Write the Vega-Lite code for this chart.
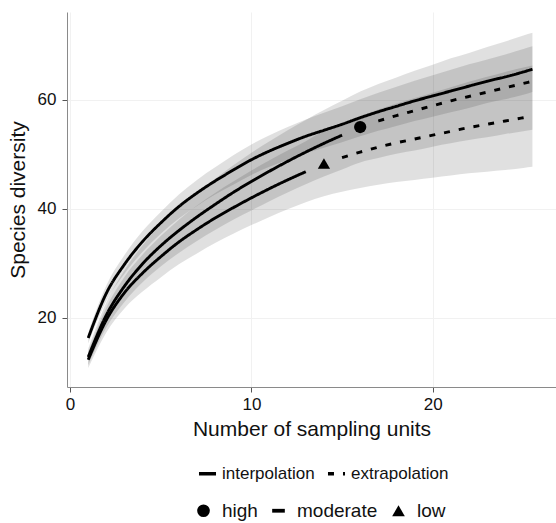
{
  "$schema": "https://vega.github.io/schema/vega-lite/v6.json",
  "width": 489,
  "height": 375,
  "autosize": "none",
  "padding": {"left": 67, "top": 12, "right": 0, "bottom": 136},
  "background": "white",
  "config": {
    "view": {"stroke": null},
    "font": "Liberation Sans",
    "axis": {
      "domainColor": "#8a8a8a",
      "tickColor": "#555555",
      "labelColor": "#111111",
      "titleColor": "#111111",
      "labelFont": "Liberation Sans",
      "titleFont": "Liberation Sans",
      "titleFontWeight": "normal",
      "labelFontSize": 17,
      "titleFontSize": 21,
      "gridColor": "#f1f1f1",
      "tickSize": 5
    }
  },
  "datasets": {
    "curves": [
      {"g": "moderate", "m": "interpolation", "x": 1, "y": 16.3, "lo": 15.3, "hi": 17.3},
      {"g": "moderate", "m": "interpolation", "x": 2, "y": 24.5, "lo": 23.1, "hi": 25.9},
      {"g": "moderate", "m": "interpolation", "x": 3, "y": 29.8, "lo": 28.1, "hi": 31.5},
      {"g": "moderate", "m": "interpolation", "x": 4, "y": 34.0, "lo": 32.1, "hi": 35.9},
      {"g": "moderate", "m": "interpolation", "x": 5, "y": 37.4, "lo": 35.4, "hi": 39.4},
      {"g": "moderate", "m": "interpolation", "x": 6, "y": 40.4, "lo": 38.2, "hi": 42.6},
      {"g": "moderate", "m": "interpolation", "x": 7, "y": 42.9, "lo": 40.5, "hi": 45.3},
      {"g": "moderate", "m": "interpolation", "x": 8, "y": 45.1, "lo": 42.6, "hi": 47.6},
      {"g": "moderate", "m": "interpolation", "x": 9, "y": 47.1, "lo": 44.4, "hi": 49.8},
      {"g": "moderate", "m": "interpolation", "x": 10, "y": 49.0, "lo": 46.2, "hi": 51.8},
      {"g": "moderate", "m": "interpolation", "x": 11, "y": 50.6, "lo": 47.7, "hi": 53.5},
      {"g": "moderate", "m": "interpolation", "x": 12, "y": 52.0, "lo": 49.0, "hi": 55.0},
      {"g": "moderate", "m": "interpolation", "x": 13, "y": 53.3, "lo": 50.2, "hi": 56.4},
      {"g": "moderate", "m": "interpolation", "x": 14, "y": 54.4, "lo": 51.2, "hi": 57.6},
      {"g": "moderate", "m": "interpolation", "x": 15, "y": 55.5, "lo": 52.2, "hi": 58.8},
      {"g": "moderate", "m": "interpolation", "x": 16, "y": 56.7, "lo": 53.3, "hi": 60.1},
      {"g": "moderate", "m": "interpolation", "x": 17, "y": 57.8, "lo": 54.3, "hi": 61.3},
      {"g": "moderate", "m": "interpolation", "x": 18, "y": 58.8, "lo": 55.2, "hi": 62.4},
      {"g": "moderate", "m": "interpolation", "x": 19, "y": 59.8, "lo": 56.1, "hi": 63.5},
      {"g": "moderate", "m": "interpolation", "x": 20, "y": 60.7, "lo": 56.9, "hi": 64.5},
      {"g": "moderate", "m": "interpolation", "x": 21, "y": 61.6, "lo": 57.7, "hi": 65.5},
      {"g": "moderate", "m": "interpolation", "x": 22, "y": 62.5, "lo": 58.5, "hi": 66.5},
      {"g": "moderate", "m": "interpolation", "x": 23, "y": 63.4, "lo": 59.4, "hi": 67.4},
      {"g": "moderate", "m": "interpolation", "x": 24, "y": 64.2, "lo": 60.1, "hi": 68.3},
      {"g": "moderate", "m": "interpolation", "x": 25, "y": 65.1, "lo": 60.9, "hi": 69.3},
      {"g": "moderate", "m": "interpolation", "x": 25.5, "y": 65.6, "lo": 61.4, "hi": 69.8},

      {"g": "high", "m": "interpolation", "x": 1, "y": 12.8, "lo": 11.3, "hi": 14.3},
      {"g": "high", "m": "interpolation", "x": 2, "y": 20.5, "lo": 18.2, "hi": 22.8},
      {"g": "high", "m": "interpolation", "x": 3, "y": 25.8, "lo": 22.9, "hi": 28.7},
      {"g": "high", "m": "interpolation", "x": 4, "y": 29.9, "lo": 26.5, "hi": 33.3},
      {"g": "high", "m": "interpolation", "x": 5, "y": 33.2, "lo": 29.4, "hi": 37.0},
      {"g": "high", "m": "interpolation", "x": 6, "y": 36.0, "lo": 31.9, "hi": 40.1},
      {"g": "high", "m": "interpolation", "x": 7, "y": 38.5, "lo": 34.1, "hi": 42.9},
      {"g": "high", "m": "interpolation", "x": 8, "y": 40.8, "lo": 36.1, "hi": 45.5},
      {"g": "high", "m": "interpolation", "x": 9, "y": 43.0, "lo": 38.0, "hi": 48.0},
      {"g": "high", "m": "interpolation", "x": 10, "y": 45.0, "lo": 39.7, "hi": 50.3},
      {"g": "high", "m": "interpolation", "x": 11, "y": 46.9, "lo": 41.4, "hi": 52.4},
      {"g": "high", "m": "interpolation", "x": 12, "y": 48.7, "lo": 43.0, "hi": 54.4},
      {"g": "high", "m": "interpolation", "x": 13, "y": 50.4, "lo": 44.5, "hi": 56.3},
      {"g": "high", "m": "interpolation", "x": 14, "y": 52.0, "lo": 45.9, "hi": 58.1},
      {"g": "high", "m": "interpolation", "x": 15, "y": 53.5, "lo": 47.2, "hi": 59.8},
      {"g": "high", "m": "ref", "x": 16, "y": 55.0, "lo": 48.5, "hi": 61.5},
      {"g": "high", "m": "extrapolation", "x": 17, "y": 56.1, "lo": 49.3, "hi": 62.9},
      {"g": "high", "m": "extrapolation", "x": 18, "y": 57.1, "lo": 50.1, "hi": 64.1},
      {"g": "high", "m": "extrapolation", "x": 19, "y": 58.0, "lo": 50.7, "hi": 65.3},
      {"g": "high", "m": "extrapolation", "x": 20, "y": 58.9, "lo": 51.4, "hi": 66.4},
      {"g": "high", "m": "extrapolation", "x": 21, "y": 59.8, "lo": 52.0, "hi": 67.6},
      {"g": "high", "m": "extrapolation", "x": 22, "y": 60.6, "lo": 52.6, "hi": 68.6},
      {"g": "high", "m": "extrapolation", "x": 23, "y": 61.4, "lo": 53.1, "hi": 69.7},
      {"g": "high", "m": "extrapolation", "x": 24, "y": 62.2, "lo": 53.7, "hi": 70.7},
      {"g": "high", "m": "extrapolation", "x": 25, "y": 63.0, "lo": 54.2, "hi": 71.8},
      {"g": "high", "m": "extrapolation", "x": 25.5, "y": 63.4, "lo": 54.5, "hi": 72.3},

      {"g": "low", "m": "interpolation", "x": 1, "y": 12.3, "lo": 10.8, "hi": 13.8},
      {"g": "low", "m": "interpolation", "x": 2, "y": 19.6, "lo": 17.3, "hi": 21.9},
      {"g": "low", "m": "interpolation", "x": 3, "y": 24.6, "lo": 21.7, "hi": 27.5},
      {"g": "low", "m": "interpolation", "x": 4, "y": 28.2, "lo": 24.8, "hi": 31.6},
      {"g": "low", "m": "interpolation", "x": 5, "y": 31.2, "lo": 27.4, "hi": 35.0},
      {"g": "low", "m": "interpolation", "x": 6, "y": 33.9, "lo": 29.8, "hi": 38.0},
      {"g": "low", "m": "interpolation", "x": 7, "y": 36.2, "lo": 31.8, "hi": 40.6},
      {"g": "low", "m": "interpolation", "x": 8, "y": 38.3, "lo": 33.7, "hi": 42.9},
      {"g": "low", "m": "interpolation", "x": 9, "y": 40.2, "lo": 35.4, "hi": 45.0},
      {"g": "low", "m": "interpolation", "x": 10, "y": 42.0, "lo": 37.0, "hi": 47.0},
      {"g": "low", "m": "interpolation", "x": 11, "y": 43.7, "lo": 38.5, "hi": 48.9},
      {"g": "low", "m": "interpolation", "x": 12, "y": 45.3, "lo": 39.9, "hi": 50.7},
      {"g": "low", "m": "interpolation", "x": 13, "y": 46.8, "lo": 41.2, "hi": 52.4},
      {"g": "low", "m": "ref", "x": 14, "y": 48.3, "lo": 42.3, "hi": 54.3},
      {"g": "low", "m": "extrapolation", "x": 15, "y": 49.4, "lo": 43.1, "hi": 55.7},
      {"g": "low", "m": "extrapolation", "x": 16, "y": 50.4, "lo": 43.8, "hi": 57.0},
      {"g": "low", "m": "extrapolation", "x": 17, "y": 51.3, "lo": 44.4, "hi": 58.2},
      {"g": "low", "m": "extrapolation", "x": 18, "y": 52.1, "lo": 44.9, "hi": 59.3},
      {"g": "low", "m": "extrapolation", "x": 19, "y": 52.8, "lo": 45.3, "hi": 60.3},
      {"g": "low", "m": "extrapolation", "x": 20, "y": 53.5, "lo": 45.7, "hi": 61.3},
      {"g": "low", "m": "extrapolation", "x": 21, "y": 54.2, "lo": 46.1, "hi": 62.3},
      {"g": "low", "m": "extrapolation", "x": 22, "y": 54.9, "lo": 46.5, "hi": 63.3},
      {"g": "low", "m": "extrapolation", "x": 23, "y": 55.5, "lo": 46.8, "hi": 64.2},
      {"g": "low", "m": "extrapolation", "x": 24, "y": 56.1, "lo": 47.1, "hi": 65.1},
      {"g": "low", "m": "extrapolation", "x": 25, "y": 56.7, "lo": 47.5, "hi": 65.9},
      {"g": "low", "m": "extrapolation", "x": 25.5, "y": 57.0, "lo": 47.7, "hi": 66.3}
    ],
    "refs": [
      {"g": "high", "x": 16, "y": 55.0},
      {"g": "low", "x": 14, "y": 48.3}
    ]
  },
  "layer": [
    {
      "data": {"name": "curves"},
      "mark": {"type": "area", "color": "black", "opacity": 0.12, "interpolate": "monotone"},
      "encoding": {
        "x": {
          "field": "x", "type": "quantitative",
          "scale": {"domain": [-0.17, 26.8], "nice": false, "zero": false},
          "axis": {"values": [0, 10, 20], "title": "Number of sampling units", "labelPadding": 4, "titlePadding": 6, "grid": true}
        },
        "y": {
          "field": "lo", "type": "quantitative",
          "scale": {"domain": [7.3, 76.1], "nice": false, "zero": false},
          "axis": {"values": [20, 40, 60], "title": "Species diversity", "labelPadding": 6, "titlePadding": 9, "grid": true}
        },
        "y2": {"field": "hi"},
        "detail": {"field": "g"}
      }
    },
    {
      "data": {"name": "curves"},
      "transform": [{"filter": "datum.m != 'ref'"}],
      "mark": {"type": "line", "color": "black", "strokeWidth": 2.9, "strokeCap": "butt", "interpolate": "monotone"},
      "encoding": {
        "x": {"field": "x", "type": "quantitative"},
        "y": {"field": "y", "type": "quantitative"},
        "detail": {"field": "g"},
        "strokeDash": {
          "field": "m", "type": "nominal",
          "scale": {"domain": ["interpolation", "extrapolation"], "range": [[1, 0], [6, 9]]},
          "legend": {
            "title": null, "orient": "none", "direction": "horizontal",
            "legendX": 130, "legendY": 451,
            "symbolType": "stroke", "symbolSize": 290, "symbolStrokeWidth": 3.5,
            "symbolStrokeColor": "black",
            "labelFontSize": 17, "labelFont": "Liberation Sans", "labelColor": "#111111",
            "labelOffset": 4, "columnPadding": 5
          }
        }
      }
    },
    {
      "data": {"name": "refs"},
      "mark": {"type": "point", "filled": true, "color": "black", "size": 150, "opacity": 1},
      "encoding": {
        "x": {"field": "x", "type": "quantitative"},
        "y": {"field": "y", "type": "quantitative"},
        "shape": {
          "field": "g", "type": "nominal",
          "scale": {"domain": ["high", "moderate", "low"], "range": ["circle", "M-1,-0.3H1V0.3H-1Z", "triangle-up"]},
          "legend": {
            "title": null, "orient": "none", "direction": "horizontal",
            "legendX": 127, "legendY": 489,
            "symbolSize": 160, "symbolFillColor": "black", "symbolStrokeWidth": 0,
            "labelFontSize": 19, "labelFont": "Liberation Sans", "labelColor": "#111111",
            "labelOffset": 9, "columnPadding": 11
          }
        }
      }
    }
  ]
}
